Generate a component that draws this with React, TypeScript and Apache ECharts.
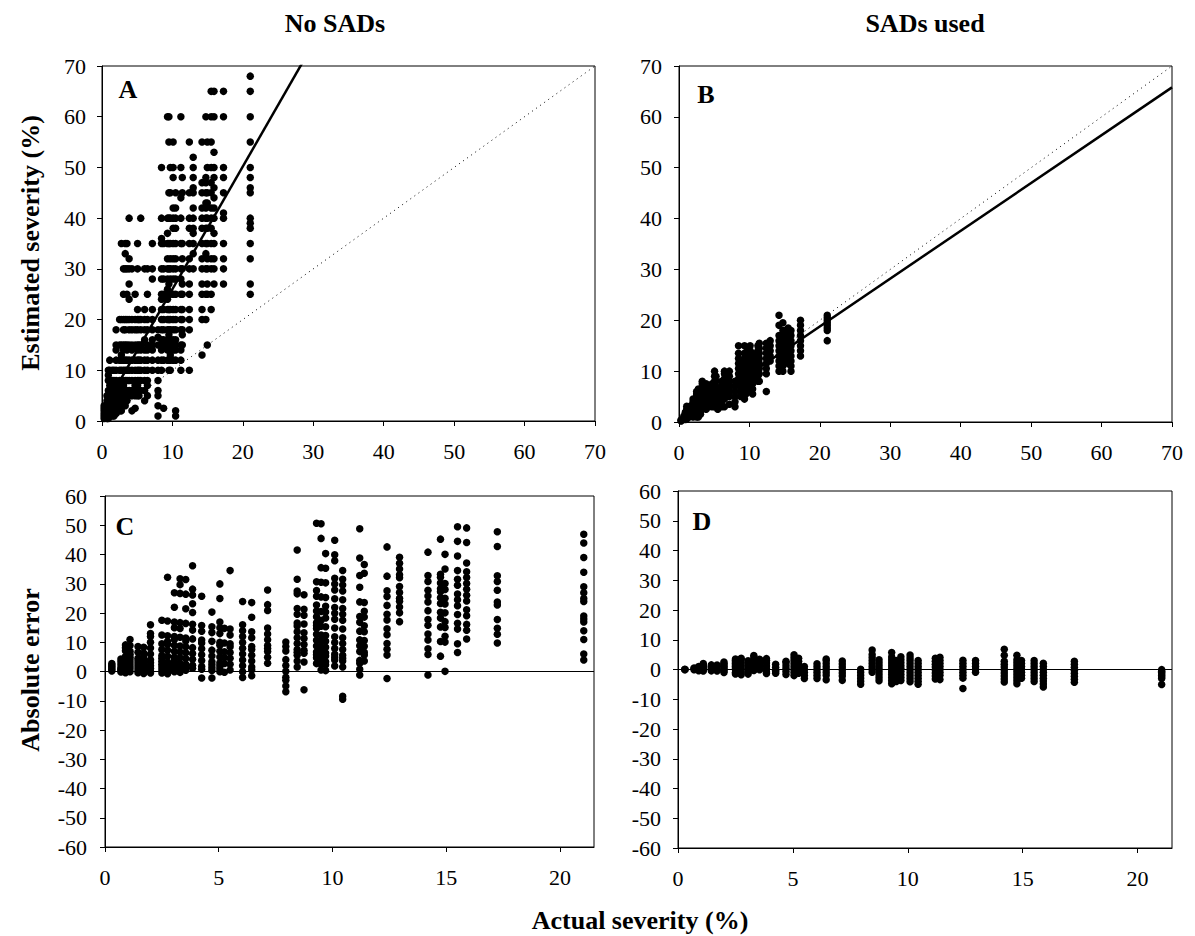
import React, { useEffect, useRef } from "react";
import * as echarts from "echarts";

// Actual severity (%) of the assessed images (shared by both methods)
const actualSeverity = [
  0.3, 0.7, 0.9, 1.1, 1.45, 1.7, 2.0, 2.5, 2.75, 3.05, 3.3, 3.55, 3.85, 4.25, 4.7, 5.05, 5.25, 5.5, 6.05, 6.45,
  7.15, 7.95, 8.45, 8.75, 9.3, 9.5, 9.7, 10.1, 10.45, 11.2, 11.4, 12.4, 12.95, 14.2, 14.75, 14.95, 15.5, 15.9, 17.25, 21.05,
];

// Estimated severity (%) without SADs, one list per actual severity
const estimatedNoSADs = [
  [0.5, 1, 1.5, 2, 2.5, 3],
  [0.5, 1, 1.5, 2, 3, 4, 5],
  [0.5, 1, 2, 3, 4, 5, 6, 8, 9, 10],
  [1, 2, 3, 4, 5, 6, 7, 8, 10, 12],
  [1, 2, 3, 4, 5, 6, 8, 10],
  [1, 1.5, 2, 3, 4, 5, 6, 7, 8, 10],
  [1.5, 2, 3, 4, 5, 6, 8, 10, 12, 14, 15, 18],
  [2, 3, 4, 5, 6, 7, 8, 10, 12, 15, 20],
  [2, 3, 4, 5, 6, 8, 10, 12, 13, 15, 20, 35],
  [3, 4, 5, 6, 7, 8, 10, 12, 14, 15, 18, 20, 25, 30],
  [3, 4, 5, 6, 8, 10, 12, 15, 18, 20, 30, 33, 35],
  [4, 5, 6, 8, 10, 12, 14, 15, 20, 25, 30, 35],
  [5, 6, 8, 10, 12, 15, 18, 20, 24, 27, 30, 32, 40],
  [2, 5, 6, 8, 10, 12, 14, 15, 18, 20, 30],
  [2.5, 5, 6, 7, 8, 10, 12, 15, 18, 20, 25],
  [5, 6, 7, 8, 10, 12, 14, 15, 18, 20, 22, 30, 35],
  [5, 8, 10, 12, 15, 20],
  [6, 8, 10, 12, 14, 15, 18, 20, 40],
  [4, 6, 8, 10, 12, 14, 16, 18, 20, 22, 30],
  [5, 7, 8, 10, 12, 14, 15, 18, 20, 25, 30],
  [10, 12, 14, 15, 16, 18, 20, 22, 28, 30, 35],
  [1, 3, 5, 6, 8, 10, 12, 15, 16.5, 18],
  [10, 12, 14, 15, 16, 18, 20, 22, 24, 25, 28, 30, 35, 36, 40, 50],
  [2.5, 12, 15, 16, 18, 20, 22, 25, 28, 30, 35],
  [12, 14, 15, 16, 18, 20, 22, 24, 25, 26, 28, 30, 32, 35, 37, 40, 60],
  [10, 12, 14, 15, 17, 18, 20, 22, 25, 27, 30, 35, 40, 45, 55, 60],
  [10, 12, 13, 15, 16, 18, 20, 22, 25, 28, 30, 32, 35, 40, 45, 50],
  [12, 14, 15, 16, 18, 20, 22, 25, 28, 30, 32, 35, 38, 40, 42, 48, 50, 55],
  [1, 2, 12, 14, 15, 16, 18, 20, 22, 25, 28, 30, 32, 35, 38, 40, 42, 45],
  [10, 12, 14, 15, 18, 20, 22, 25, 28, 30, 35, 40, 44, 50, 60],
  [15, 17, 18, 20, 22, 25, 27, 30, 32, 35, 45, 48],
  [10, 18, 20, 22, 25, 27, 30, 32, 35, 38, 40, 45, 55],
  [30, 33, 35, 37, 38, 40, 42, 45, 46, 48, 50, 52],
  [13, 20, 22, 25, 27, 30, 32, 35, 38, 40, 42, 45, 47, 55],
  [20, 25, 30, 33, 35, 38, 40, 42, 43, 45, 47, 48, 60],
  [15, 25, 27, 30, 32, 35, 38, 40, 43, 45, 50, 55],
  [22, 25, 30, 32, 35, 38, 40, 42, 45, 47, 50, 55, 60, 65],
  [27, 30, 32, 35, 37, 40, 42, 44, 46, 48, 50, 53, 60, 65],
  [27, 30, 32, 35, 40, 41, 45, 48, 50, 60, 65],
  [25, 27, 32, 35, 38, 39, 40, 45, 46, 48, 50, 55, 60, 65, 68],
];

// Estimated severity (%) with SADs, one list per actual severity
const estimatedSADs = [
  [0.2, 0.3, 0.4],
  [0.6, 1.0, 1.2],
  [0.5, 0.9, 1.4, 1.9],
  [0.6, 1.1, 1.6, 2.1, 2.6, 3.1],
  [1, 1.5, 2, 2.5, 3],
  [1.2, 1.7, 2.7, 3.2],
  [1, 1.5, 2, 2.5, 3, 3.5, 4, 4.5],
  [1, 1.5, 2.5, 3, 3.5, 4, 4.5, 5, 5.5, 6],
  [1, 2, 3, 4, 5, 6, 6.5],
  [1.5, 2, 3, 4, 5, 6],
  [3, 3.5, 4.5, 5.5, 6.5, 7.5, 8],
  [3.5, 4.5, 5.5, 6.5, 7],
  [2.5, 3, 4, 5, 6, 7, 7.5],
  [3, 3.5, 4, 5, 6],
  [3, 4, 5, 6, 7, 7.5],
  [3, 4, 5, 6, 7, 8, 9, 10],
  [4, 5, 6, 7, 8, 9],
  [2.5, 3.5, 4.5, 5.5, 6.5],
  [3, 4, 5, 6, 7, 8],
  [3, 4.5, 5.5, 6.5, 7.5, 8.5, 9.5, 10],
  [3.5, 5, 6, 7, 8, 9, 10],
  [3, 4, 5, 6, 7, 8],
  [7.5, 8.5, 9.5, 10.5, 11.5, 12.5, 13.5, 15],
  [5, 6, 7, 8, 9, 10, 11, 12],
  [4.5, 5.5, 6.5, 7.5, 8.5, 9.5, 10.5, 11.5, 12.5, 13.5, 15],
  [5.5, 6.5, 7.5, 8.5, 9.5, 10.5, 11.5, 12.5],
  [6, 7, 8, 9, 10, 11, 12, 13, 14],
  [6, 7, 8, 9, 10, 11, 12, 13, 14, 15],
  [5.5, 6.5, 7.5, 8.5, 9.5, 10.5, 11.5, 12.5, 13.5],
  [8, 9, 10, 11, 12, 13, 14, 15],
  [8, 9.5, 10.5, 11.5, 12.5, 13.5, 14.5, 15.5],
  [6, 9.5, 10.5, 11.5, 12.5, 13.5, 14.5, 15.5],
  [12, 13, 14, 15, 16],
  [10, 11, 12, 13, 14, 15, 16, 17, 19, 21],
  [10, 11, 12, 13, 14, 15, 16, 17, 18, 19.5],
  [12, 13, 14, 15, 16, 17, 18],
  [11.5, 12.5, 13.5, 14.5, 15.5, 16.5, 17.5, 18.5],
  [10, 11, 12, 13, 14, 15, 16, 17, 18],
  [13, 14, 15, 16, 17, 18, 19, 20],
  [16, 18, 18.5, 19, 19.5, 20, 20.5, 21],
];

// Fitted regression lines (estimated = slope * actual + intercept)
const fitNoSADs = { slope: 2.42, intercept: 1.8 };
const fitSADs = { slope: 0.94, intercept: 0 };

// Axis ranges and tick labels
const severityRange = [0, 70];
const severityTicks = [0, 10, 20, 30, 40, 50, 60, 70];
const errorRange = [-60, 60];
const errorTicks = [-60, -50, -40, -30, -20, -10, 0, 10, 20, 30, 40, 50, 60];
const actualRange = [0, 21.5];
const actualTicks = [0, 5, 10, 15, 20];

const columnTitles = ["No SADs", "SADs used"];
const panelLetters = ["A", "B", "C", "D"];
const axisTitles = { estimated: "Estimated severity (%)", error: "Absolute error", actual: "Actual severity (%)" };

const FONT = "'Liberation Serif', 'Times New Roman', serif";

function toPoints(est: number[][]) {
  return actualSeverity.flatMap((a, i) => est[i].map((e) => [a, e]));
}
function toErrors(est: number[][]) {
  return actualSeverity.flatMap((a, i) => est[i].map((e) => [a, Math.round((e - a) * 100) / 100]));
}
function fitLine(fit: { slope: number; intercept: number }) {
  return [severityRange[0], severityRange[1]].map((x) => [x, fit.slope * x + fit.intercept]);
}

export default function App() {
  const ref = useRef<HTMLDivElement>(null);

  useEffect(() => {
    if (!ref.current) return;
    const chart = echarts.init(ref.current, undefined, { renderer: "svg" });

    const labelStyle = { color: "#000", fontFamily: FONT, fontSize: 22 };
    const lineStyle = { color: "#000", width: 1 };

    const makeX = (gridIndex: number, range: number[], interval: number, ticks: number[]) => ({
      type: "value",
      gridIndex,
      min: range[0],
      max: range[1],
      interval,
      axisLine: { show: true, onZero: false, lineStyle },
      axisTick: { show: true, inside: false, length: 5, lineStyle, customValues: ticks },
      axisLabel: {
        ...labelStyle,
        margin: 19,
        customValues: ticks,
        formatter: (v: number) => (ticks.includes(v) ? String(v) : ""),
      },
      splitLine: { show: false },
    });
    const makeY = (gridIndex: number, range: number[], interval: number, ticks: number[], margin: number) => ({
      type: "value",
      gridIndex,
      min: range[0],
      max: range[1],
      interval,
      axisLine: { show: true, onZero: false, lineStyle },
      axisTick: { show: true, inside: false, length: 5, lineStyle },
      axisLabel: { ...labelStyle, margin, formatter: (v: number) => (ticks.includes(v) ? String(v) : "") },
      splitLine: { show: false },
    });

    const gridBase = { show: true, borderColor: "#000", borderWidth: 1, backgroundColor: "transparent", containLabel: false };

    const scatter = (xAxisIndex: number, data: number[][], zeroLine: boolean) => ({
      type: "scatter",
      xAxisIndex,
      yAxisIndex: xAxisIndex,
      data,
      symbol: "circle",
      symbolSize: 7.5,
      itemStyle: { color: "#000", opacity: 1 },
      silent: true,
      z: 3,
      markLine: zeroLine
        ? {
            silent: true,
            symbol: ["none", "none"],
            label: { show: false },
            lineStyle: { color: "#000", width: 1, type: "solid" },
            data: [{ yAxis: 0 }],
          }
        : undefined,
    });

    const line = (xAxisIndex: number, data: number[][], style: any, z: number) => ({
      type: "line",
      xAxisIndex,
      yAxisIndex: xAxisIndex,
      data,
      showSymbol: false,
      symbol: "none",
      clip: true,
      silent: true,
      lineStyle: style,
      z,
    });

    const text = (t: string, x: number, y: number, size: number, rotation = 0) => ({
      type: "text",
      x,
      y,
      rotation,
      silent: true,
      style: {
        text: t,
        font: `bold ${size}px ${FONT}`,
        fill: "#000",
        align: "center",
        verticalAlign: "middle",
        textAlign: "center",
        textVerticalAlign: "middle",
      },
    });

    chart.setOption({
      animation: false,
      backgroundColor: "#fff",
      grid: [
        { ...gridBase, left: 102, top: 66, width: 493, height: 355 },
        { ...gridBase, left: 679, top: 66, width: 493, height: 356 },
        { ...gridBase, left: 105, top: 496, width: 489, height: 351 },
        { ...gridBase, left: 678, top: 491, width: 494, height: 357 },
      ],
      xAxis: [
        makeX(0, severityRange, 10, severityTicks),
        makeX(1, severityRange, 10, severityTicks),
        makeX(2, actualRange, 5, actualTicks),
        makeX(3, actualRange, 5, actualTicks),
      ],
      yAxis: [
        makeY(0, severityRange, 10, severityTicks, 16),
        makeY(1, severityRange, 10, severityTicks, 17),
        makeY(2, errorRange, 10, errorTicks, 18),
        makeY(3, errorRange, 10, errorTicks, 17),
      ],
      series: [
        line(0, [[severityRange[0], severityRange[0]], [severityRange[1], severityRange[1]]], { color: "#000", width: 1, type: [1, 4] }, 2),
        scatter(0, toPoints(estimatedNoSADs), false),
        line(0, fitLine(fitNoSADs), { color: "#000", width: 2.5 }, 4),
        line(1, [[severityRange[0], severityRange[0]], [severityRange[1], severityRange[1]]], { color: "#000", width: 1, type: [1, 4] }, 2),
        scatter(1, toPoints(estimatedSADs), false),
        line(1, fitLine(fitSADs), { color: "#000", width: 2.5 }, 4),
        scatter(2, toErrors(estimatedNoSADs), true),
        scatter(3, toErrors(estimatedSADs), true),
      ],
      graphic: [
        text(columnTitles[0], 335, 23, 26),
        text(columnTitles[1], 925, 23, 26),
        text(panelLetters[0], 128, 89, 26),
        text(panelLetters[1], 706, 94, 26),
        text(panelLetters[2], 125, 526, 26),
        text(panelLetters[3], 702, 521, 26),
        text(axisTitles.estimated, 30, 243, 26, Math.PI / 2),
        text(axisTitles.error, 30, 670, 26, Math.PI / 2),
        text(axisTitles.actual, 640, 920, 26),
      ],
    });

    return () => chart.dispose();
  }, []);

  return (
    <div
      ref={ref}
      style={{ position: "absolute", left: 0, top: 0, width: 1195, height: 936, background: "#fff" }}
    />
  );
}
